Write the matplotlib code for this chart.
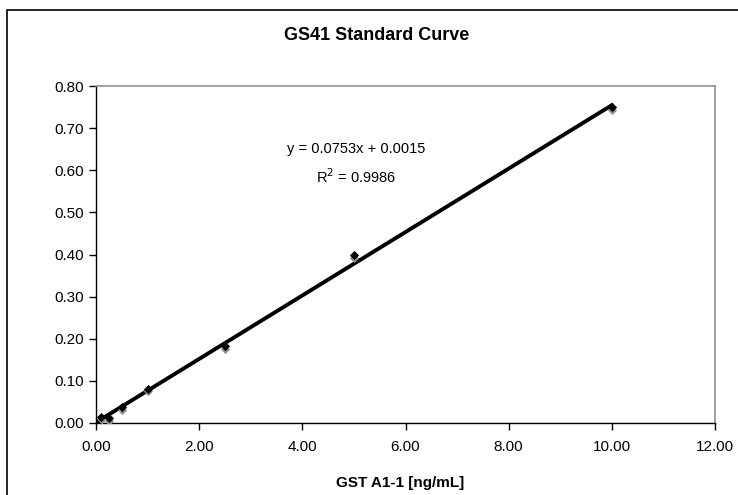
import matplotlib
matplotlib.use("Agg")
import numpy as np
from matplotlib import pyplot as plt
from matplotlib.patches import Rectangle

plt.rcParams['font.family'] = ['Liberation Sans', 'DejaVu Sans']

conc = [0, 0.1, 0.25, 0.5, 1.0, 2.5, 5.0, 10.0]
od_a = [0.000, 0.014, 0.012, 0.038, 0.081, 0.182, 0.399, 0.750]
od_b = [-0.002, 0.008, 0.005, 0.031, 0.076, 0.176, 0.392, 0.743]
slope = 0.0753
intercept = 0.0015

fig = plt.figure(figsize=(7.38, 4.95), dpi=100)
# outer chart border (runs off the bottom/right edge)
fig.patches.append(Rectangle((7 / 738, -0.05), 1.1, (495 - 10) / 495 + 0.05,
                             transform=fig.transFigure, fill=False,
                             edgecolor='black', lw=1.2))

ax = fig.add_axes([96 / 738, 72 / 495, (715 - 96) / 738, (423 - 86) / 495])

xfit = np.array([0, 10])
ax.plot(xfit, slope * xfit + intercept, color='black', lw=2.8, zorder=2)
ax.scatter(conc, od_b, marker='D', s=22, color='#909090', zorder=3, linewidths=0)
ax.scatter(conc, od_a, marker='D', s=22, color='black', zorder=4, linewidths=0)

ax.set_xlim(0, 12)
ax.set_ylim(0, 0.8)
ax.set_xticks(np.arange(0, 12.1, 2))
ax.set_yticks(np.arange(0, 0.81, 0.1))
ax.xaxis.set_major_formatter(matplotlib.ticker.FormatStrFormatter('%.2f'))
ax.yaxis.set_major_formatter(matplotlib.ticker.FormatStrFormatter('%.2f'))
ax.tick_params(direction='out', length=5, width=1, labelsize=11, pad=4)
ax.tick_params(axis='x', pad=7)
for s in ['top', 'right']:
    ax.spines[s].set_color('#909090')
    ax.spines[s].set_linewidth(1.2)
for s in ['left', 'bottom']:
    ax.spines[s].set_color('black')
    ax.spines[s].set_linewidth(1.0)

fig.text(377 / 738, 1 - 36 / 495, 'GS41 Standard Curve', ha='center', va='center',
         fontsize=13, fontweight='bold')
fig.text(400 / 738, 1 - 483 / 495, 'GST A1-1 [ng/mL]', ha='center', va='center',
         fontsize=11, fontweight='bold')
fig.text(356 / 738, 1 - 149 / 495, 'y = 0.0753x + 0.0015', ha='center', va='center',
         fontsize=10.5)
fig.text(356 / 738, 1 - 177 / 495, 'R$^2$ = 0.9986', ha='center', va='center',
         fontsize=10.5)

fig.savefig('out.png', dpi=100)
